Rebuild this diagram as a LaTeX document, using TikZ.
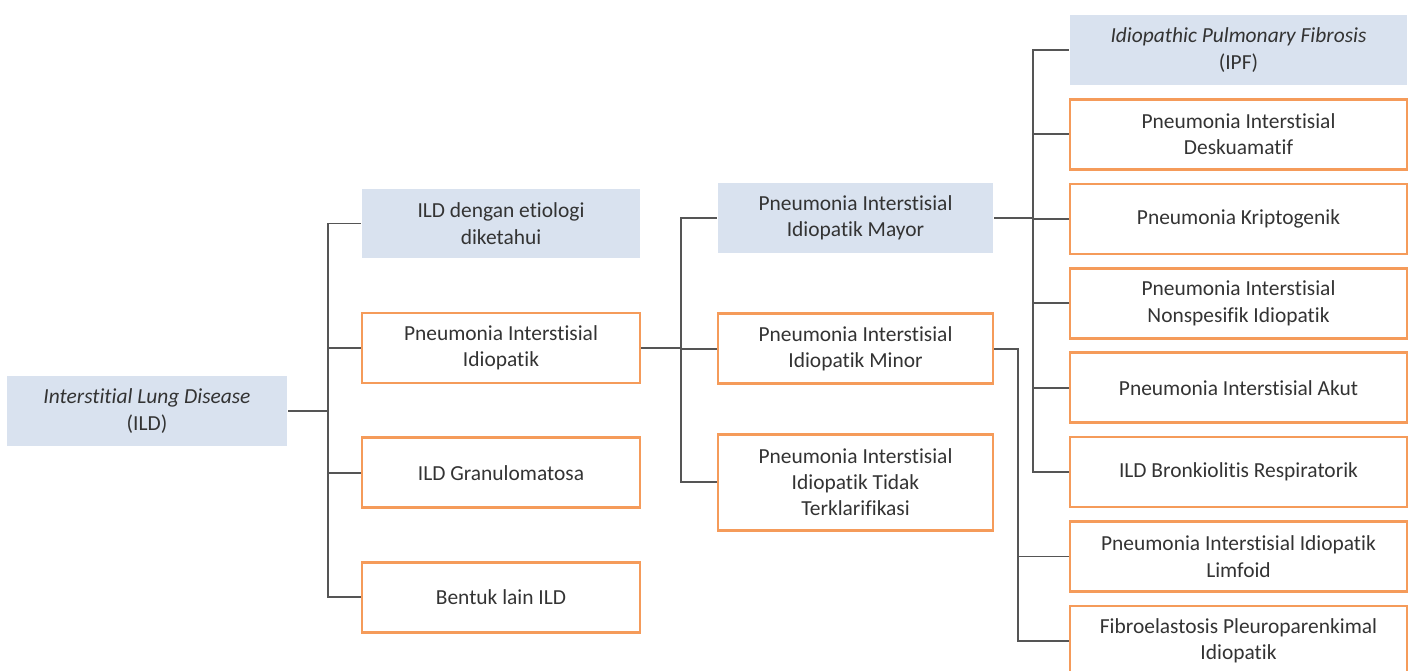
\documentclass[tikz,border=0pt]{standalone}
\usepackage{fontspec}
\setmainfont[Ligatures={NoCommon}]{Carlito}
\usepackage{tikz}
\usetikzlibrary{positioning}

\definecolor{boxblue}{HTML}{D9E2EF}
\definecolor{boxorange}{HTML}{F59B5A}
\definecolor{linegray}{HTML}{555555}
\definecolor{txtgray}{HTML}{333333}

\begin{document}
\begin{tikzpicture}[x=0.02cm,y=-0.02cm,
  box/.style={draw=boxorange,line width=1.5pt,minimum width=5.56cm,
    minimum height=1.4cm,align=center,text=txtgray,
    font=\fontsize{12.2}{15}\selectfont},
  head/.style={box,draw=none,fill=boxblue},
  link/.style={draw=linegray,line width=1.1pt}]
\useasboundingbox (0,0) rectangle (1414,671);
% root
\node[head,minimum width=5.6cm] (ild) at (147,411)
  {\textit{Interstitial Lung Disease}\\(ILD)};
% first column
\node[head] (etio) at (501,223.5) {ILD dengan etiologi\\diketahui};
\node[box,below=1.04cm of etio] (pii) {Pneumonia Interstisial\\Idiopatik};
\node[box,below=1.04cm of pii] (gran) {ILD Granulomatosa};
\node[box,below=1.04cm of gran] (lain) {Bentuk lain ILD};
% second column
\node[head,minimum width=5.5cm] (mayor) at (855.5,218)
  {Pneumonia Interstisial\\Idiopatik Mayor};
\node[box,minimum width=5.5cm,below=1.16cm of mayor] (minor)
  {Pneumonia Interstisial\\Idiopatik Minor};
\node[box,minimum width=5.5cm,minimum height=1.92cm,below=0.96cm of minor] (tidak)
  {Pneumonia Interstisial\\Idiopatik Tidak\\Terklarifikasi};
% third column
\node[head,minimum width=6.74cm] (ipf) at (1238.5,50)
  {\textit{Idiopathic Pulmonary Fibrosis}\\(IPF)};
\node[box,minimum width=6.74cm,below=0.236cm of ipf] (desk)
  {Pneumonia Interstisial\\Deskuamatif};
\node[box,minimum width=6.74cm,below=0.236cm of desk] (kripto)
  {Pneumonia Kriptogenik};
\node[box,minimum width=6.74cm,below=0.236cm of kripto] (nonsp)
  {Pneumonia Interstisial\\Nonspesifik Idiopatik};
\node[box,minimum width=6.74cm,below=0.236cm of nonsp] (akut)
  {Pneumonia Interstisial Akut};
\node[box,minimum width=6.74cm,below=0.236cm of akut] (bronk)
  {ILD Bronkiolitis Respiratorik};
\node[box,minimum width=6.74cm,below=0.236cm of bronk] (limf)
  {Pneumonia Interstisial Idiopatik\\Limfoid};
\node[box,minimum width=6.74cm,below=0.236cm of limf] (fibro)
  {Fibroelastosis Pleuroparenkimal\\Idiopatik};
% connectors
\foreach \c in {etio,pii,gran,lain}
  \draw[link] (ild.east) -- ++(0.8cm,0) |- (\c.west);
\foreach \c in {mayor,minor,tidak}
  \draw[link] (pii.east) -- ++(0.8cm,0) |- (\c.west);
\foreach \c in {ipf,desk,kripto,nonsp,akut,bronk}
  \draw[link] (mayor.east) -- ++(0.78cm,0) |- (\c.west);
\foreach \c in {limf,fibro}
  \draw[link] (minor.east) -- ++(0.48cm,0) |- (\c.west);
\end{tikzpicture}
\end{document}
